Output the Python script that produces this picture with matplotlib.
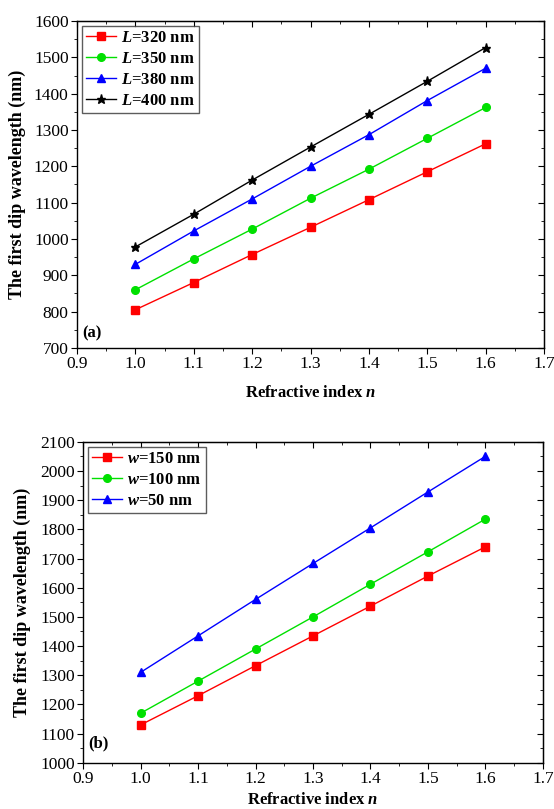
import matplotlib
matplotlib.use("Agg")
import matplotlib.pyplot as plt
from matplotlib.ticker import MultipleLocator, NullFormatter

plt.rcParams['font.family'] = ['Liberation Serif', 'DejaVu Serif']
plt.rcParams['mathtext.fontset'] = 'custom'
plt.rcParams['mathtext.rm'] = 'Liberation Serif:bold'
plt.rcParams['mathtext.it'] = 'Liberation Serif:italic:bold'
plt.rcParams['mathtext.bf'] = 'Liberation Serif:bold'

n_index = [1.0, 1.1, 1.2, 1.3, 1.4, 1.5, 1.6]

# panel (a): period L
L320 = [805, 880, 957, 1032, 1108, 1185, 1262]
L350 = [860, 945, 1027, 1112, 1192, 1277, 1362]
L380 = [930, 1022, 1110, 1200, 1287, 1381, 1470]
L400 = [978, 1068, 1162, 1253, 1343, 1434, 1527]

# panel (b): width w
w150 = [1130, 1230, 1333, 1435, 1537, 1640, 1740]
w100 = [1170, 1280, 1390, 1500, 1612, 1723, 1835]
w50 = [1310, 1435, 1560, 1683, 1805, 1928, 2050]


def style_axes(ax, ylim, label, label_y, xlab_y, ylab_x):
    ax.set_xlim(0.9, 1.7)
    ax.set_ylim(*ylim)
    ax.xaxis.set_major_locator(MultipleLocator(0.1))
    ax.xaxis.set_minor_locator(MultipleLocator(0.05))
    ax.yaxis.set_major_locator(MultipleLocator(100))
    ax.yaxis.set_minor_locator(MultipleLocator(50))
    ax.xaxis.set_major_formatter(plt.FuncFormatter(lambda v, p: f"{v:.1f}"))
    ax.tick_params(which='both', direction='out', labelsize=12.5, pad=2)
    ax.tick_params(which='major', length=4)
    ax.tick_params(which='minor', length=2.5)
    # inward ticks on top and right
    top = ax.secondary_xaxis('top')
    right = ax.secondary_yaxis('right')
    for sec, sec_axis, major, minor in ((top, top.xaxis, 0.1, 0.05),
                                        (right, right.yaxis, 100, 50)):
        sec_axis.set_major_locator(MultipleLocator(major))
        sec_axis.set_minor_locator(MultipleLocator(minor))
        sec_axis.set_major_formatter(NullFormatter())
        sec.tick_params(which='both', direction='in')
        sec.tick_params(which='major', length=4)
        sec.tick_params(which='minor', length=2.5)
    for s in ax.spines.values():
        s.set_linewidth(1.0)
    ax.set_xlabel(r"Refractive index $n$", fontsize=12, fontweight='bold')
    ax.set_ylabel("The first dip wavelength (nm)", fontsize=13, fontweight='bold')
    ax.yaxis.set_label_coords(ylab_x, 0.5)
    ax.xaxis.set_label_coords(0.5, xlab_y)
    ax.text(0.012, label_y, label, transform=ax.transAxes, fontsize=12,
            fontweight='bold', va='bottom', ha='left')
    leg = ax.legend(loc='upper left', frameon=True, fancybox=False,
                    prop={'weight': 'bold', 'size': 12}, handlelength=1.8,
                    borderaxespad=0.3, labelspacing=0.3, handletextpad=0.3,
                    borderpad=0.25)
    leg.get_frame().set_edgecolor('#333333')
    leg.get_frame().set_linewidth(1.0)


fig = plt.figure(figsize=(5.54, 8.09), dpi=100)
ax1 = fig.add_axes([0.139, 0.570, 0.843, 0.404])
ax2 = fig.add_axes([0.150, 0.057, 0.830, 0.397])

kw = dict(linewidth=1.0, markersize=5.5)
ax1.plot(n_index, L320, color='red', marker='s', label=r"$L$=320 nm", **kw)
ax1.plot(n_index, L350, color='#00e000', marker='o', label=r"$L$=350 nm", **kw)
ax1.plot(n_index, L380, color='blue', marker='^', label=r"$L$=380 nm", **kw)
ax1.plot(n_index, L400, color='black', marker='*', label=r"$L$=400 nm",
         linewidth=1.0, markersize=6.5)
style_axes(ax1, (700, 1600), "(a)", 0.02, -0.115, -0.109)

ax2.plot(n_index, w150, color='red', marker='s', label=r"$w$=150 nm", **kw)
ax2.plot(n_index, w100, color='#00e000', marker='o', label=r"$w$=100 nm", **kw)
ax2.plot(n_index, w50, color='blue', marker='^', label=r"$w$=50 nm", **kw)
style_axes(ax2, (1000, 2100), "(b)", 0.035, -0.092, -0.113)

fig.savefig("out.png", dpi=100)
